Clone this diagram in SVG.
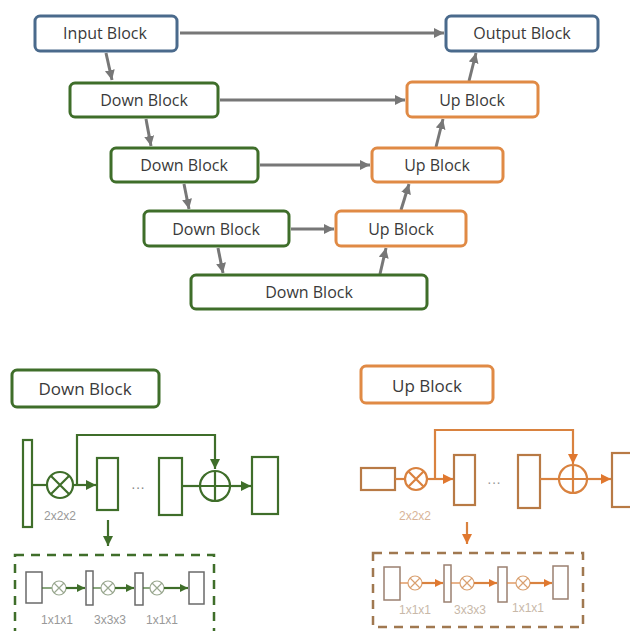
<svg xmlns="http://www.w3.org/2000/svg" width="630" height="631" viewBox="0 0 630 631">
<defs>
<style>
.t{font-family:"Open Sans","Liberation Sans",sans-serif;font-size:16px;fill:#3a3a3a;text-anchor:middle;dominant-baseline:central}
.blue{fill:#fff;stroke:#4a6a8c;stroke-width:3}
.green{fill:#fff;stroke:#3f6e2a;stroke-width:3}
.orange{fill:#fff;stroke:#e08a45;stroke-width:3}
.ga{fill:none;stroke:#777;stroke-width:3;marker-end:url(#mg)}
.gl{fill:none;stroke:#3f6e2a;stroke-width:2.2}
.ol{fill:none;stroke:#d9823f;stroke-width:2.2}
.gr{fill:#fff;stroke:#3f6e2a;stroke-width:2.2}
.or{fill:#fff;stroke:#b87a45;stroke-width:2.2}
.lbl{font-family:"Liberation Sans",sans-serif;font-size:12px;fill:#999;text-anchor:middle}
.olbl{font-family:"Liberation Sans",sans-serif;font-size:12px;fill:#d8b498;text-anchor:middle}
.ir{fill:#fff;stroke:#6a6a6a;stroke-width:1.5}
.iro{fill:#fff;stroke:#9a8070;stroke-width:1.5}
.ic{fill:none;stroke:#9aa890;stroke-width:1.2}
.ico{fill:none;stroke:#d9a070;stroke-width:1.2}
.dg{fill:none;stroke:#3f6e2a;stroke-width:2.5;stroke-dasharray:9 7}
.do{fill:none;stroke:#a07850;stroke-width:2.5;stroke-dasharray:9 7}
</style>
<marker id="mg" markerUnits="userSpaceOnUse" markerWidth="12" markerHeight="12" refX="10" refY="5" orient="auto"><path d="M0,0 L10,5 L0,10 Z" fill="#777"/></marker>
<marker id="mgr" markerUnits="userSpaceOnUse" markerWidth="12" markerHeight="12" refX="10" refY="5" orient="auto"><path d="M0,0 L10,5 L0,10 Z" fill="#3f6e2a"/></marker>
<marker id="mor" markerUnits="userSpaceOnUse" markerWidth="12" markerHeight="12" refX="10" refY="5" orient="auto"><path d="M0,0 L10,5 L0,10 Z" fill="#e0782f"/></marker>
<marker id="mgs" markerUnits="userSpaceOnUse" markerWidth="10" markerHeight="10" refX="8" refY="4" orient="auto"><path d="M0,0 L8,4 L0,8 Z" fill="#3f6e2a"/></marker>
<marker id="mos" markerUnits="userSpaceOnUse" markerWidth="10" markerHeight="10" refX="8" refY="4" orient="auto"><path d="M0,0 L8,4 L0,8 Z" fill="#e0782f"/></marker>
</defs>
<rect width="630" height="631" fill="#fff"/>

<g id="connectors">
<line class="ga" x1="180" y1="33" x2="444" y2="33"/>
<line class="ga" x1="106" y1="53" x2="112" y2="80"/>
<line class="ga" x1="146" y1="119" x2="151" y2="146"/>
<line class="ga" x1="184" y1="184" x2="189" y2="209"/>
<line class="ga" x1="218" y1="248" x2="223" y2="273"/>
<line class="ga" x1="220" y1="100" x2="405" y2="100"/>
<line class="ga" x1="260" y1="165" x2="370" y2="165"/>
<line class="ga" x1="291" y1="229" x2="334" y2="229"/>
<line class="ga" x1="380" y1="274" x2="386" y2="248"/>
<line class="ga" x1="401" y1="210" x2="409" y2="184"/>
<line class="ga" x1="436" y1="147" x2="443" y2="119"/>
<line class="ga" x1="469" y1="81" x2="476" y2="53"/>
</g>

<g id="input-block"><rect class="blue" x="35" y="16" width="142" height="35" rx="5"/><text class="t" x="105" y="33">Input Block</text></g>
<g id="output-block"><rect class="blue" x="446" y="16" width="152" height="35" rx="5"/><text class="t" x="522" y="33">Output Block</text></g>
<g id="down-1"><rect class="green" x="70" y="83" width="148" height="34" rx="5"/><text class="t" x="144" y="100">Down Block</text></g>
<g id="down-2"><rect class="green" x="111" y="148" width="147" height="34" rx="5"/><text class="t" x="184" y="165">Down Block</text></g>
<g id="down-3"><rect class="green" x="144" y="211" width="145" height="35" rx="5"/><text class="t" x="216" y="229">Down Block</text></g>
<g id="down-4"><rect class="green" x="191" y="275" width="236" height="34" rx="5"/><text class="t" x="309" y="292">Down Block</text></g>
<g id="up-1"><rect class="orange" x="407" y="82" width="131" height="35" rx="5"/><text class="t" x="472" y="100">Up Block</text></g>
<g id="up-2"><rect class="orange" x="372" y="148" width="131" height="34" rx="5"/><text class="t" x="437" y="165">Up Block</text></g>
<g id="up-3"><rect class="orange" x="336" y="211" width="130" height="35" rx="5"/><text class="t" x="401" y="229">Up Block</text></g>

<g id="down-detail">
<rect class="green" x="12" y="370" width="147" height="37" rx="5"/>
<text class="t" x="85" y="388" style="font-size:17px">Down Block</text>
<rect class="gr" x="23" y="440" width="9" height="87"/>
<line class="gl" x1="32" y1="485" x2="47" y2="485"/>
<circle class="gl" cx="60" cy="485" r="13"/>
<path class="gl" d="M51,476 L69,494 M69,476 L51,494"/>
<line class="gl" x1="73" y1="485" x2="96" y2="485" marker-end="url(#mgr)"/>
<path class="gl" d="M77,485 V435 H215 V469" marker-end="url(#mgr)"/>
<rect class="gr" x="97" y="458" width="21" height="52"/>
<text x="138" y="492" style="font-family:'Liberation Sans',sans-serif;font-size:14px;fill:#888;text-anchor:middle">···</text>
<rect class="gr" x="159" y="458" width="23" height="57"/>
<line class="gl" x1="182" y1="486" x2="200" y2="486"/>
<circle class="gl" cx="215" cy="486" r="15"/>
<path class="gl" d="M200,486 H230 M215,471 V501"/>
<line class="gl" x1="230" y1="486" x2="251" y2="486" marker-end="url(#mgr)"/>
<rect class="gr" x="252" y="457" width="26" height="57"/>
<text class="lbl" x="60" y="520">2x2x2</text>
<line class="gl" x1="108" y1="520" x2="108" y2="546" marker-end="url(#mgr)"/>
<rect class="dg" x="15" y="555" width="199" height="90"/>
<rect class="ir" x="26" y="572" width="16" height="31"/>
<line class="gl" x1="42" y1="588" x2="52" y2="588" style="stroke-width:1.2"/>
<circle class="ic" cx="59" cy="588" r="7"/><path class="ic" d="M54,583 L64,593 M64,583 L54,593"/>
<line class="gl" x1="66" y1="588" x2="85" y2="588" marker-end="url(#mgs)"/>
<rect class="ir" x="86" y="571" width="7" height="34"/>
<line class="gl" x1="93" y1="588" x2="101" y2="588" style="stroke-width:1.2"/>
<circle class="ic" cx="108" cy="588" r="7"/><path class="ic" d="M103,583 L113,593 M113,583 L103,593"/>
<line class="gl" x1="115" y1="588" x2="134" y2="588" marker-end="url(#mgs)"/>
<rect class="ir" x="135" y="573" width="8" height="32"/>
<line class="gl" x1="143" y1="588" x2="150" y2="588" style="stroke-width:1.2"/>
<circle class="ic" cx="157" cy="588" r="7"/><path class="ic" d="M152,583 L162,593 M162,583 L152,593"/>
<line class="gl" x1="164" y1="588" x2="188" y2="588" marker-end="url(#mgs)"/>
<rect class="ir" x="189" y="572" width="15" height="32"/>
<text class="lbl" x="57" y="624">1x1x1</text>
<text class="lbl" x="110" y="624">3x3x3</text>
<text class="lbl" x="162" y="624">1x1x1</text>
</g>

<g id="up-detail">
<rect class="orange" x="361" y="366" width="132" height="37" rx="5"/>
<text class="t" x="427" y="385" style="font-size:17px">Up Block</text>
<rect class="or" x="361" y="468" width="34" height="22"/>
<line class="ol" x1="395" y1="479" x2="405" y2="479"/>
<circle class="ol" cx="416" cy="479" r="11"/>
<path class="ol" d="M408,471 L424,487 M424,471 L408,487"/>
<line class="ol" x1="427" y1="479" x2="453" y2="479" marker-end="url(#mor)"/>
<path class="ol" d="M435,479 V430 H573 V464" marker-end="url(#mor)"/>
<rect class="or" x="454" y="455" width="21" height="50"/>
<text x="494" y="487" style="font-family:'Liberation Sans',sans-serif;font-size:14px;fill:#999;text-anchor:middle">···</text>
<rect class="or" x="518" y="455" width="22" height="53"/>
<line class="ol" x1="540" y1="479" x2="559" y2="479"/>
<circle class="ol" cx="573" cy="479" r="14"/>
<path class="ol" d="M559,479 H587 M573,465 V493"/>
<line class="ol" x1="587" y1="479" x2="611" y2="479" marker-end="url(#mor)"/>
<rect class="or" x="612" y="453" width="30" height="54"/>
<text class="olbl" x="415" y="520">2x2x2</text>
<line class="ol" x1="467" y1="522" x2="467" y2="544" marker-end="url(#mor)"/>
<rect class="do" x="373" y="553" width="210" height="74"/>
<rect class="iro" x="384" y="567" width="16" height="33"/>
<line class="ol" x1="400" y1="583" x2="408" y2="583" style="stroke-width:1.2"/>
<circle class="ico" cx="415" cy="583" r="7"/><path class="ico" d="M410,578 L420,588 M420,578 L410,588"/>
<line class="ol" x1="422" y1="583" x2="443" y2="583" marker-end="url(#mos)"/>
<rect class="iro" x="444" y="565" width="7" height="37"/>
<line class="ol" x1="451" y1="583" x2="460" y2="583" style="stroke-width:1.2"/>
<circle class="ico" cx="467" cy="583" r="7"/><path class="ico" d="M462,578 L472,588 M472,578 L462,588"/>
<line class="ol" x1="474" y1="583" x2="497" y2="583" marker-end="url(#mos)"/>
<rect class="iro" x="498" y="567" width="9" height="35"/>
<line class="ol" x1="507" y1="583" x2="516" y2="583" style="stroke-width:1.2"/>
<circle class="ico" cx="523" cy="583" r="7"/><path class="ico" d="M518,578 L528,588 M528,578 L518,588"/>
<line class="ol" x1="530" y1="583" x2="552" y2="583" marker-end="url(#mos)"/>
<rect class="iro" x="553" y="566" width="15" height="33"/>
<text class="olbl" x="415" y="614" style="fill:#c8b8a8">1x1x1</text>
<text class="olbl" x="470" y="614" style="fill:#c8b8a8">3x3x3</text>
<text class="olbl" x="528" y="612" style="fill:#c8b8a8">1x1x1</text>
</g>
</svg>
